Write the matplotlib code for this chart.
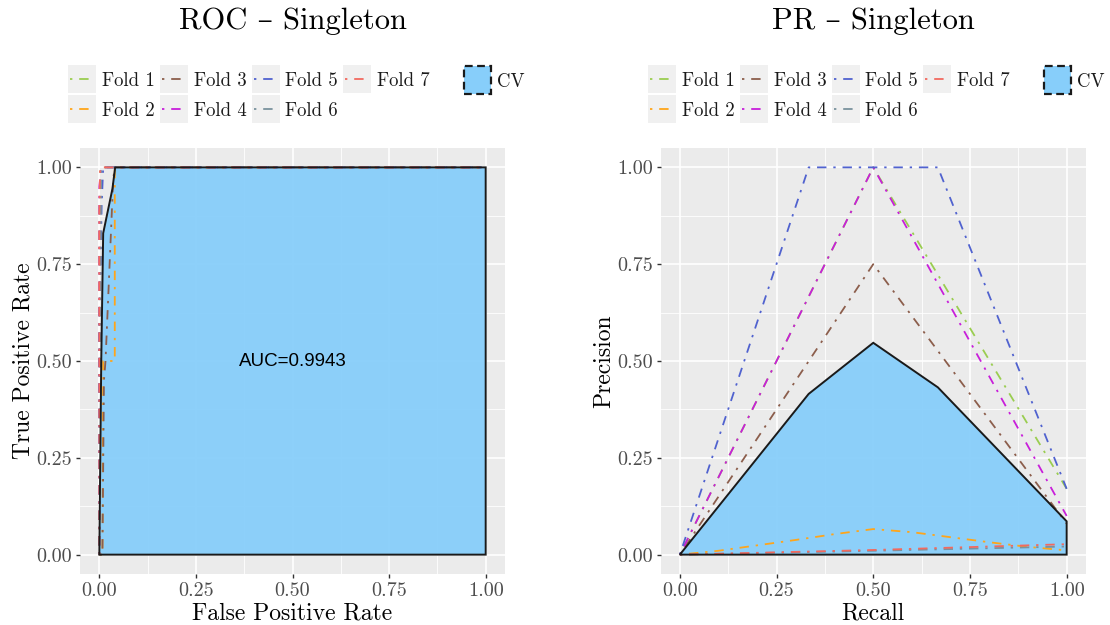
import matplotlib
matplotlib.use("Agg")
import matplotlib.pyplot as plt
from matplotlib.patches import Rectangle
from matplotlib.lines import Line2D
from matplotlib.ticker import FixedLocator

W, H = 1110, 625
plt.rcParams['font.family'] = ['cmr10', 'DejaVu Serif']
plt.rcParams['axes.formatter.use_mathtext'] = True

# ---- data -------------------------------------------------------------
fold_names = ['Fold 1', 'Fold 2', 'Fold 3', 'Fold 4', 'Fold 5', 'Fold 6', 'Fold 7']
fold_colors = ['#9ACD50', '#FFA51A', '#8C5E4C', '#C81EDA', '#5062CF', '#7A929E', '#F2695F']

# ROC curves per fold (FPR, TPR)
roc_fpr_1 = [0.0, 0.0, 0.003, 1.0]
roc_tpr_1 = [0.0, 0.87, 1.0, 1.0]
roc_fpr_2 = [0.0, 0.008, 0.010, 0.040, 0.040, 1.0]
roc_tpr_2 = [0.0, 0.0, 0.50, 0.50, 1.0, 1.0]
roc_fpr_3 = [0.0, 0.008, 0.012, 0.016, 0.036, 0.040, 1.0]
roc_tpr_3 = [0.0, 0.0, 0.45, 0.50, 0.97, 1.0, 1.0]
roc_fpr_4 = [0.0, 0.0, 0.005, 1.0]
roc_tpr_4 = [0.0, 0.95, 1.0, 1.0]
roc_fpr_5 = [0.0, 0.0, 0.003, 0.006, 0.010, 1.0]
roc_tpr_5 = [0.0, 0.60, 0.72, 0.90, 1.0, 1.0]
roc_fpr_6 = [0.0, 0.002, 0.005, 1.0]
roc_tpr_6 = [0.0, 0.62, 1.0, 1.0]
roc_fpr_7 = [0.0, 0.0, 0.002, 1.0]
roc_tpr_7 = [0.0, 0.88, 1.0, 1.0]

# averaged ROC (cross-validation)
roc_cv_fpr = [0.0, 0.005, 0.010, 0.034, 0.041, 1.0, 1.0]
roc_cv_tpr = [0.0, 0.50, 0.83, 0.945, 1.0, 1.0, 0.0]
roc_auc = 0.9943

# PR curves per fold (Recall, Precision)
pr_rec_1 = [0.0, 0.5, 1.0]
pr_prec_1 = [0.0, 1.0, 0.17]
pr_rec_2 = [0.0, 0.1, 0.2, 0.3, 0.4, 0.5, 0.6, 0.7, 0.8, 0.9, 1.0]
pr_prec_2 = [0.0, 0.010, 0.024, 0.038, 0.053, 0.066, 0.058, 0.045, 0.032, 0.020, 0.011]
pr_rec_3 = [0.0, 0.5, 1.0]
pr_prec_3 = [0.0, 0.75, 0.08]
pr_rec_4 = [0.0, 0.5, 1.0]
pr_prec_4 = [0.0, 1.0, 0.10]
pr_rec_5 = [0.0, 0.333, 0.667, 1.0]
pr_prec_5 = [0.0, 1.0, 1.0, 0.17]
pr_rec_6 = [0.0, 0.5, 1.0]
pr_prec_6 = [0.0, 0.010, 0.021]
pr_rec_7 = [0.0, 0.5, 1.0]
pr_prec_7 = [0.0, 0.012, 0.027]

# averaged PR (cross-validation)
pr_cv_rec = [0.0, 0.333, 0.5, 0.667, 1.0, 1.0]
pr_cv_prec = [0.0, 0.415, 0.547, 0.432, 0.086, 0.0]

roc_folds = [(roc_fpr_1, roc_tpr_1), (roc_fpr_2, roc_tpr_2), (roc_fpr_3, roc_tpr_3),
             (roc_fpr_4, roc_tpr_4), (roc_fpr_5, roc_tpr_5), (roc_fpr_6, roc_tpr_6),
             (roc_fpr_7, roc_tpr_7)]
pr_folds = [(pr_rec_1, pr_prec_1), (pr_rec_2, pr_prec_2), (pr_rec_3, pr_prec_3),
            (pr_rec_4, pr_prec_4), (pr_rec_5, pr_prec_5), (pr_rec_6, pr_prec_6),
            (pr_rec_7, pr_prec_7)]

tick_vals = [0.0, 0.25, 0.5, 0.75, 1.0]
tick_labels = ['0.00', '0.25', '0.50', '0.75', '1.00']
minor_vals = [0.125, 0.375, 0.625, 0.875]

# ---- styling ------------------------------------------------------------
PANEL_BG = '#EBEBEB'
CV_FILL = '#87CEFA'
DOTDASH = (0, (1.3, 3.8, 5.2, 3.8))
LW = 1.3

fig = plt.figure(figsize=(W / 100, H / 100), dpi=100)


def px_box(x0, y0, x1, y1):
    return [x0 / W, 1 - y1 / H, (x1 - x0) / W, (y1 - y0) / H]


def style_axes(ax, xlabel, ylabel):
    ax.set_facecolor(PANEL_BG)
    for s in ax.spines.values():
        s.set_visible(False)
    ax.set_xlim(-0.05, 1.05)
    ax.set_ylim(-0.05, 1.05)
    ax.set_xticks(tick_vals)
    ax.set_xticklabels(tick_labels)
    ax.set_yticks(tick_vals)
    ax.set_yticklabels(tick_labels)
    ax.xaxis.set_minor_locator(FixedLocator(minor_vals))
    ax.yaxis.set_minor_locator(FixedLocator(minor_vals))
    ax.tick_params(which='major', length=3.2, width=1.0, color='#333333',
                   labelcolor='#4D4D4D', labelsize=14.5, pad=2.5)
    ax.tick_params(which='minor', length=0)
    ax.grid(which='major', color='white', lw=1.2)
    ax.grid(which='minor', color='white', lw=0.6)
    ax.set_axisbelow(True)
    ax.set_xlabel(xlabel, fontsize=17, labelpad=2)
    ax.set_ylabel(ylabel, fontsize=17, labelpad=1)


def draw_panel(ax, folds, cv_x, cv_y):
    ax.fill(cv_x, cv_y, facecolor=CV_FILL, alpha=0.95, edgecolor='none', zorder=2)
    for (x, y), c in zip(folds, fold_colors):
        ax.plot(x, y, color=c, lw=LW, ls=DOTDASH, zorder=3)
    ax.fill(cv_x, cv_y, facecolor='none', edgecolor='#1A1A1A', lw=1.4, zorder=4)


def draw_legend(key_left):
    size = 28
    col_step = 91.7
    for i, (name, c) in enumerate(zip(fold_names, fold_colors)):
        col, row = i // 2, i % 2
        kx = key_left + col * col_step
        ky = 65 + row * 30
        fig.add_artist(Rectangle((kx / W, 1 - (ky + size) / H), size / W, size / H,
                                 transform=fig.transFigure, facecolor='#F0F0F0',
                                 edgecolor='none'))
        yc = 1 - (ky + size / 2) / H
        fig.add_artist(Line2D([(kx + 2) / W, (kx + size - 2) / W], [yc, yc],
                              transform=fig.transFigure, color=c, lw=LW, ls=DOTDASH))
        fig.text((kx + size + 5.5) / W, yc - 2.5 / H, name, fontsize=13.5, va='center',
                 ha='left', color='#1A1A1A')
    cvx = key_left + 395
    fig.add_artist(Rectangle(((cvx + 1) / W, 1 - 93.5 / H), 27 / W, 28 / H,
                             transform=fig.transFigure, facecolor=CV_FILL,
                             edgecolor='#1A1A1A', lw=1.6, ls=(0, (3.5, 2))))
    fig.text((cvx + 34) / W, 1 - 82.5 / H, 'CV', fontsize=13.5, va='center',
             ha='left', color='#1A1A1A')


# ROC panel
ax_roc = fig.add_axes(px_box(80, 148, 505, 574))
style_axes(ax_roc, 'False Positive Rate', 'True Positive Rate')
draw_panel(ax_roc, roc_folds, roc_cv_fpr, roc_cv_tpr)
ax_roc.text(0.5, 0.5, f'AUC={roc_auc:.4f}', fontsize=13.5, family='Liberation Sans',
            ha='center', va='center', color='black', zorder=5)
fig.text(292.5 / W, 1 - 21 / H, 'ROC – Singleton', fontsize=22, ha='center', va='center')
draw_legend(68.3)

# PR panel
ax_pr = fig.add_axes(px_box(660.5, 148, 1086, 574))
style_axes(ax_pr, 'Recall', 'Precision')
draw_panel(ax_pr, pr_folds, pr_cv_rec, pr_cv_prec)
fig.text(873 / W, 1 - 21 / H, 'PR – Singleton', fontsize=22, ha='center', va='center')
draw_legend(648.3)

fig.savefig('out.png', dpi=100)
